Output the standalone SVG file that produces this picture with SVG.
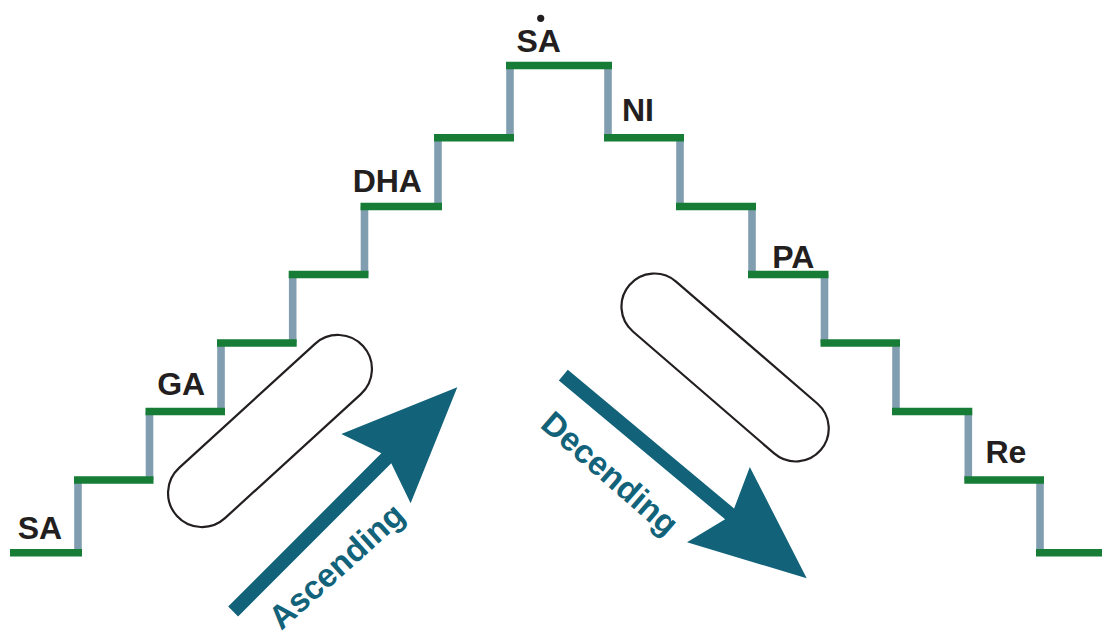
<svg xmlns="http://www.w3.org/2000/svg" width="1102" height="637" viewBox="0 0 1102 637">
  <defs>
    <style>
      .tread { stroke: #177d36; stroke-width: 7.6; fill: none; }
      .riser { stroke: #809eb0; stroke-width: 7.6; fill: none; }
      .lbl { font-family: "Liberation Sans", Arial, sans-serif; font-weight: bold; font-size: 32px; fill: #231f20; text-anchor: middle; }
      .dir { font-family: "Liberation Sans", Arial, sans-serif; font-weight: bold; font-size: 33px; fill: #12627a; text-anchor: middle; }
      .pill { fill: #ffffff; stroke: #231f20; stroke-width: 2.2; }
      .arrow { fill: #12627a; }
    </style>
    <path id="arrowShape" d="M-317,-7 L-100.4,-7 L-115,-49 L0,0 L-115,49 L-100.4,7 L-317,7 Z"/>
  </defs>
  <rect width="1102" height="637" fill="#ffffff"/>

  <g id="stairs">
    <g id="risers" class="riser">
      <line x1="78" y1="552.7" x2="78" y2="480"/>
      <line x1="149.5" y1="480" x2="149.5" y2="411.5"/>
      <line x1="221" y1="411.5" x2="221" y2="343"/>
      <line x1="292.7" y1="343" x2="292.7" y2="274.5"/>
      <line x1="364.5" y1="274.5" x2="364.5" y2="206.5"/>
      <line x1="438" y1="206.5" x2="438" y2="137.8"/>
      <line x1="510" y1="137.8" x2="510" y2="65.5"/>
      <line x1="608" y1="65.5" x2="608" y2="137.8"/>
      <line x1="680" y1="137.8" x2="680" y2="206.5"/>
      <line x1="752" y1="206.5" x2="752" y2="274.5"/>
      <line x1="824.5" y1="274.5" x2="824.5" y2="343"/>
      <line x1="896" y1="343" x2="896" y2="411.5"/>
      <line x1="968.3" y1="411.5" x2="968.3" y2="480"/>
      <line x1="1040" y1="480" x2="1040" y2="552.7"/>
    </g>
    <g id="treads" class="tread">
      <line x1="10" y1="552.7" x2="82" y2="552.7"/>
      <line x1="74" y1="480" x2="153.5" y2="480"/>
      <line x1="145.5" y1="411.5" x2="225" y2="411.5"/>
      <line x1="217" y1="343" x2="296.7" y2="343"/>
      <line x1="288.7" y1="274.5" x2="368.5" y2="274.5"/>
      <line x1="360.5" y1="206.5" x2="442" y2="206.5"/>
      <line x1="434" y1="137.8" x2="514" y2="137.8"/>
      <line x1="506" y1="65.5" x2="612" y2="65.5"/>
      <line x1="604" y1="137.8" x2="684" y2="137.8"/>
      <line x1="676" y1="206.5" x2="756" y2="206.5"/>
      <line x1="748" y1="274.5" x2="828.5" y2="274.5"/>
      <line x1="820.5" y1="343" x2="900" y2="343"/>
      <line x1="892" y1="411.5" x2="972.3" y2="411.5"/>
      <line x1="964.3" y1="480" x2="1044" y2="480"/>
      <line x1="1036" y1="552.7" x2="1102" y2="552.7"/>
    </g>
  </g>

  <g id="label-sa-low"><text class="lbl" x="40" y="539.3">SA</text></g>
  <g id="label-ga"><text class="lbl" x="181.2" y="395.3">GA</text></g>
  <g id="label-dha"><text class="lbl" x="387.3" y="191.7">DHA</text></g>
  <g id="label-sa-high">
    <text class="lbl" x="538.7" y="52.3">SA</text>
    <circle cx="540.7" cy="18.3" r="3.6" fill="#231f20"/>
  </g>
  <g id="label-ni"><text class="lbl" x="638" y="120.7">NI</text></g>
  <g id="label-pa"><text class="lbl" x="793.2" y="267.7">PA</text></g>
  <g id="label-re"><text class="lbl" x="1005.9" y="463.3">Re</text></g>

  <g id="pill-left">
    <rect class="pill" x="-126" y="-34" width="252" height="68" rx="34" ry="34" transform="translate(270,431) rotate(-42.4)"/>
  </g>
  <g id="pill-right">
    <rect class="pill" x="-126.3" y="-33" width="252.6" height="66" rx="33" ry="33" transform="translate(725.1,367.5) rotate(40.8)"/>
  </g>

  <g id="connectors">
    <g id="arrow-ascending">
      <use href="#arrowShape" class="arrow" transform="translate(457.3,387.3) rotate(-45)"/>
      <text class="dir" transform="translate(344,574.5) rotate(-42)">Ascending</text>
    </g>
    <g id="arrow-descending">
      <use href="#arrowShape" class="arrow" transform="translate(806.7,578.3) rotate(39.85)"/>
      <text class="dir" transform="translate(602.6,481.8) rotate(41)">Decending</text>
    </g>
  </g>
</svg>
